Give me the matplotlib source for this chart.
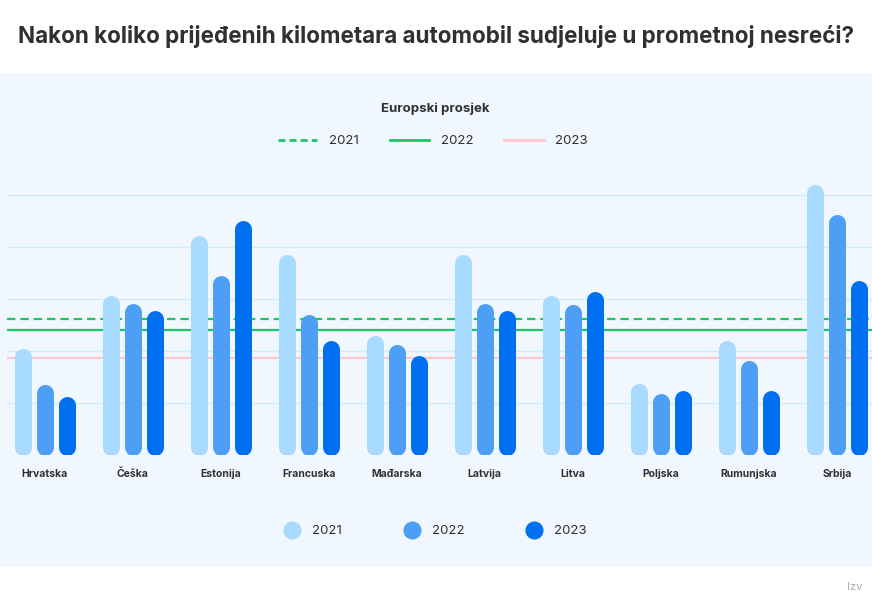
import matplotlib
matplotlib.use("Agg")
import matplotlib.pyplot as plt
from matplotlib.lines import Line2D
from matplotlib.patches import Rectangle
import numpy as np

plt.rcParams['font.family'] = ['Inter', 'DejaVu Sans']

countries = ['Hrvatska', 'Češka', 'Estonija', 'Francuska', 'Mađarska',
             'Latvija', 'Litva', 'Poljska', 'Rumunjska', 'Srbija']
years = ['2021', '2022', '2023']
v2021 = [20.4, 30.6, 42.2, 38.6, 22.9, 38.6, 30.7, 13.7, 22.0, 52.1]
v2022 = [13.5, 29.2, 34.5, 27.1, 21.3, 29.2, 29.0, 11.8, 18.2, 46.2]
v2023 = [11.2, 27.7, 45.1, 22.1, 19.2, 27.8, 31.4, 12.4, 12.4, 33.5]
eu_avg = {'2021': 26.2, '2022': 24.1, '2023': 18.7}

bar_colors = ['#A9DAFF', '#4D9EF5', '#0070F0']
avg_colors = {'2021': '#1FC466', '2022': '#1FC466', '2023': '#FFC9CC'}
avg_styles = {'2021': (0, (3.8, 2.2)), '2022': '-', '2023': '-'}
text_col = '#303030'

W, H = 872, 610
fig = plt.figure(figsize=(W / 100, H / 100), dpi=100)
fig.patch.set_facecolor('white')
fig.patches.append(Rectangle((0, 43 / H), 1, 494 / H, transform=fig.transFigure,
                             facecolor='#F0F7FE', edgecolor='none', zorder=-10))

fig.text(0.5, 1 - 37 / H, 'Nakon koliko prijeđenih kilometara automobil sudjeluje u prometnoj nesreći?',
         ha='center', va='center', fontsize=16.15, fontweight='bold', color=text_col)

ax_h = 312 / H
ax = fig.add_axes([7 / W, 155 / H, 1 - 7 / W, ax_h])
ax.set_facecolor('none')
ymax = 60
ax.set_ylim(0, ymax)
ax.set_xlim(-0.43, 9.40)
for s in ax.spines.values():
    s.set_visible(False)
ax.set_yticks(np.arange(0, 51, 10))
ax.set_yticklabels([])
ax.tick_params(length=0)
ax.grid(axis='y', color='#D3EAFA', lw=1)
ax.set_axisbelow(True)

x = np.arange(len(countries))
bar_px = 17
r = (bar_px / 2) / (ax_h * H) * ymax
lw_pt = bar_px * 72 / 100
for vals, off, col in zip([v2021, v2022, v2023], [-0.25, 0, 0.25], bar_colors):
    for xi, v in zip(x, vals):
        ax.plot([xi + off, xi + off], [r, v - r], color=col, lw=lw_pt,
                solid_capstyle='round', zorder=3)

for y in years:
    ax.axhline(eu_avg[y], color=avg_colors[y], ls=avg_styles[y], lw=1.6, zorder=2)

ax.set_xticks(x)
ax.set_xticklabels(countries, fontsize=7.5, fontweight='bold', color=text_col)
ax.tick_params(axis='x', pad=10)

fig.text(435 / W, 1 - 109 / H, 'Europski prosjek', ha='center', va='center',
         fontsize=9.5, fontweight='bold', color=text_col)
avg_handles = [Line2D([], [], color=avg_colors[y], ls=avg_styles[y] if y != '2021' else (0, (2.5, 1.5)),
                      lw=2) for y in years]
fig.legend(avg_handles, years, loc='center', bbox_to_anchor=(433 / W, 1 - 141 / H),
           ncol=3, frameon=False, fontsize=9.5, handlelength=3.0, handletextpad=0.9,
           columnspacing=2.3, labelcolor=text_col)

bar_handles = [Line2D([], [], color=c, marker='o', ls='none', ms=12) for c in bar_colors]
fig.legend(bar_handles, years, loc='center', bbox_to_anchor=(433 / W, 1 - 531 / H),
           ncol=3, frameon=False, fontsize=9.5, handletextpad=0.5,
           columnspacing=4.3, labelcolor=text_col)

fig.text(862 / W, 1 - 587 / H, 'Izv', ha='right', va='center', fontsize=8, color='#AAAAAA')

fig.savefig('out.png', dpi=100)
